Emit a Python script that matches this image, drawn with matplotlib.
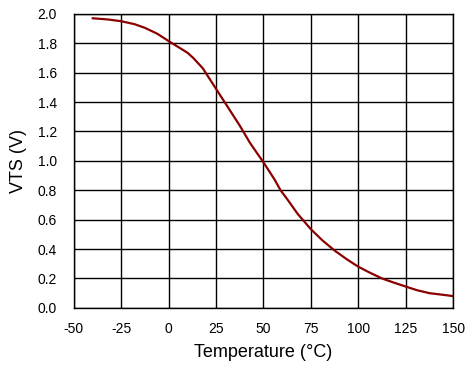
import numpy as np
import matplotlib
matplotlib.use("Agg")
import matplotlib.pyplot as plt

plt.rcParams["font.family"] = ["Liberation Sans", "DejaVu Sans"]
plt.rcParams["axes.unicode_minus"] = False

temp = [-40, -32, -25, -18, -12.5, -6, 0, 5, 10, 13, 18, 25, 31, 37.5, 43, 50, 56,
        59, 62.5, 68, 75, 81, 87.5, 94, 100, 106, 112.5, 118, 125, 131, 137.5, 144, 150]
vts = [1.97, 1.962, 1.95, 1.93, 1.905, 1.865, 1.815, 1.775, 1.735, 1.70, 1.63, 1.49, 1.37,
       1.24, 1.12, 0.99, 0.87, 0.80, 0.74, 0.64, 0.535, 0.46, 0.39, 0.33, 0.28, 0.24, 0.20,
       0.175, 0.145, 0.12, 0.10, 0.09, 0.08]

xticks = [-50, -25, 0, 25, 50, 75, 100, 125, 150]
yticks = np.arange(0, 2.01, 0.2)

fig = plt.figure(figsize=(4.76, 3.75), dpi=100)
ax = fig.add_axes([0.155, 0.179, 0.797, 0.784])

ax.plot(temp, vts, color="#8B0000", linewidth=1.6)

ax.set_xlim(-50, 150)
ax.set_ylim(0, 2.0)
ax.set_xticks(xticks)
ax.set_yticks(yticks)
ax.set_yticklabels([f"{v:.1f}" for v in yticks])
ax.grid(True, color="black", linewidth=1.0)
ax.set_axisbelow(True)
for s in ax.spines.values():
    s.set_color("black")
    s.set_linewidth(1.0)
ax.tick_params(length=0, labelsize=10, pad=12)
ax.tick_params(axis="x", pad=10)

ax.set_xlabel("Temperature (°C)", fontsize=13, labelpad=6)
ax.set_ylabel("VTS (V)", fontsize=13, labelpad=8)

fig.savefig("out.png", dpi=100)
